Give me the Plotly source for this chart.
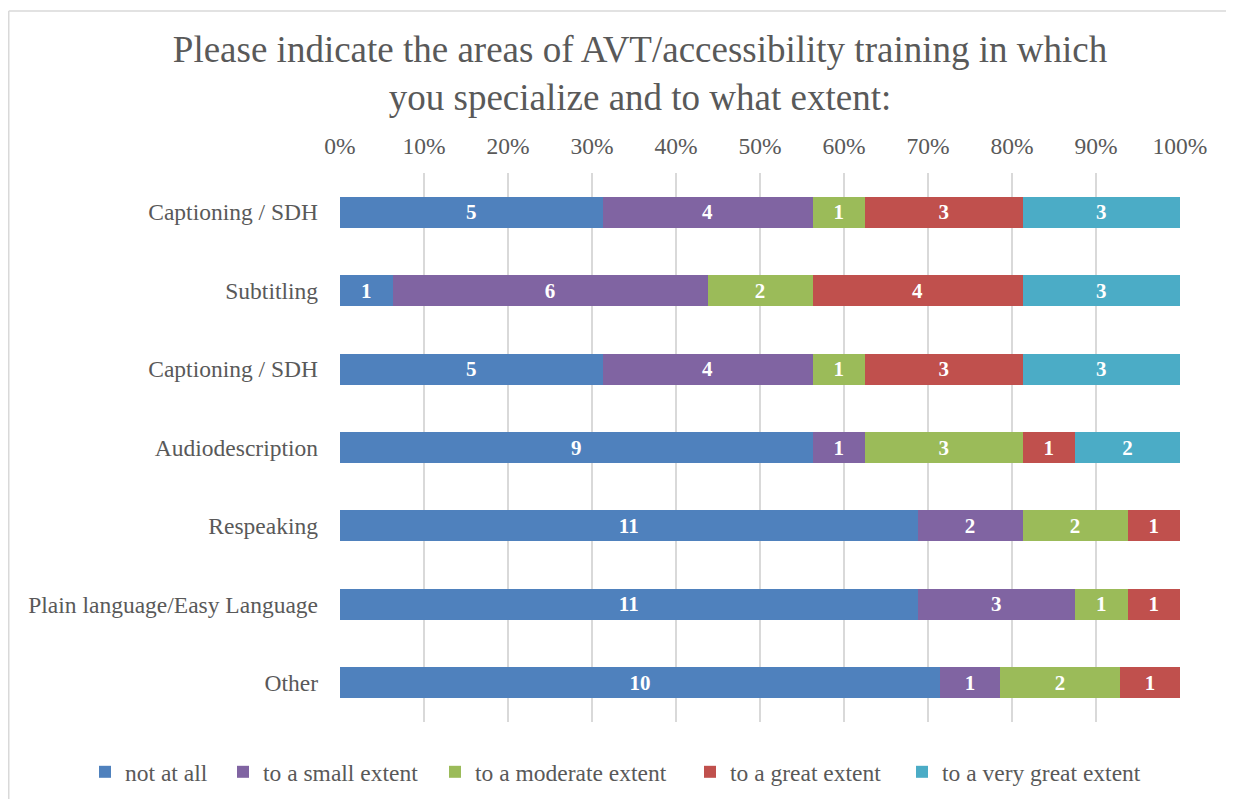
import plotly.graph_objects as go

categories = ["Captioning / SDH", "Subtitling", "Captioning / SDH", "Audiodescription",
              "Respeaking", "Plain language/Easy Language", "Other"]
series_names = ["not at all", "to a small extent", "to a moderate extent",
                "to a great extent", "to a very great extent"]
not_at_all = [5, 1, 5, 9, 11, 11, 10]
small_extent = [4, 6, 4, 1, 2, 3, 1]
moderate_extent = [1, 2, 1, 3, 2, 1, 2]
great_extent = [3, 4, 3, 1, 1, 1, 1]
very_great_extent = [3, 3, 3, 2, 0, 0, 0]
colors = ["#4F81BD", "#8064A2", "#9BBB59", "#C0504D", "#4BACC6"]
x_ticks = [0, 10, 20, 30, 40, 50, 60, 70, 80, 90, 100]
x_tick_labels = [f"{v}%" for v in x_ticks]

series_values = [not_at_all, small_extent, moderate_extent, great_extent, very_great_extent]
positions = list(range(len(categories)))

FONT = "Liberation Serif"
TXT = "#595959"
W, H = 1226, 791          # page has an 8px body margin
L, R, T, B = 332, 54, 165, 77
LABEL_SIZE = 23.5

# left edge (px, figure coords) of each legend entry
legend_left_px = [77, 215, 427, 682, 894]
legend_ids = ["legend", "legend2", "legend3", "legend4", "legend5"]

fig = go.Figure()
for name, vals, col, lid in zip(series_names, series_values, colors, legend_ids):
    fig.add_trace(go.Bar(
        y=positions, x=vals, name=name, orientation="h",
        marker=dict(color=col, line=dict(width=0)),
        text=[str(v) if v else "" for v in vals],
        texttemplate="%{text}", textposition="inside", insidetextanchor="middle",
        textfont=dict(color="white", size=21, family=FONT, weight="bold"),
        textangle=0, legend=lid,
    ))

legend_layouts = {}
for lid, lx in zip(legend_ids, legend_left_px):
    legend_layouts[lid] = dict(
        orientation="h", xref="container", yref="container",
        x=lx / W, xanchor="left", y=0.0341, yanchor="middle",
        font=dict(size=LABEL_SIZE, color=TXT, family=FONT),
        itemwidth=30, bgcolor="rgba(0,0,0,0)", borderwidth=0,
    )

fig.update_layout(
    barmode="stack", barnorm="percent", bargap=0.605,
    width=W, height=H,
    margin=dict(l=L, r=R, t=T, b=B, pad=0),
    paper_bgcolor="white", plot_bgcolor="white",
    font=dict(family=FONT, color=TXT, size=LABEL_SIZE),
    title=dict(text="Please indicate the areas of AVT/accessibility training in which<br>you specialize and to what extent:",
               x=0.5155, xanchor="center", xref="container",
               y=0.932, yanchor="middle", yref="container",
               font=dict(size=37, color=TXT, family=FONT)),
    xaxis=dict(side="top", range=[0, 100], tickvals=x_ticks, ticktext=x_tick_labels,
               showgrid=True, gridcolor="#D9D9D9", gridwidth=1.5,
               zeroline=False, showline=False, ticks="", ticklabelstandoff=13,
               tickfont=dict(size=LABEL_SIZE), fixedrange=True),
    yaxis=dict(tickvals=positions, ticktext=categories, autorange=False,
               range=[len(categories) - 0.5, -0.5], showgrid=False, zeroline=False,
               showline=False, ticks="", ticklabelstandoff=21,
               tickfont=dict(size=LABEL_SIZE)),
    showlegend=True,
    **legend_layouts,
)
# light chart-area frame (top and left edges visible in the reference)
pw, ph = W - L - R, H - T - B
fx0 = (0.75 - L) / pw
fy_top = (H - B - 3) / ph
fig.add_shape(type="line", xref="paper", yref="paper",
              x0=fx0, x1=(W - L) / pw, y0=fy_top, y1=fy_top,
              line=dict(color="#D9D9D9", width=1.5))
fig.add_shape(type="line", xref="paper", yref="paper",
              x0=fx0, x1=fx0, y0=-(B) / ph, y1=fy_top,
              line=dict(color="#D9D9D9", width=1.5))
fig.write_html("out.html")
